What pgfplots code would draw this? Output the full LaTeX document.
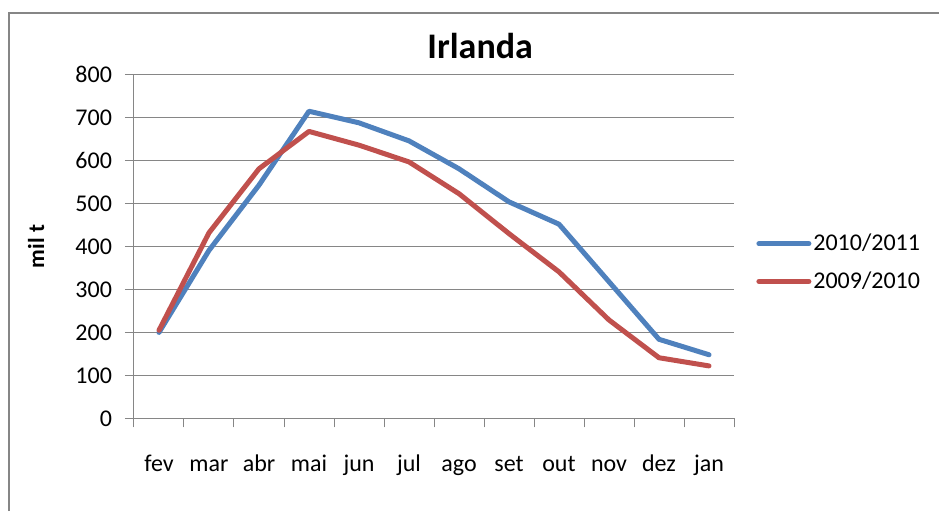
\documentclass[border=0pt]{standalone}
\usepackage{fontspec}
\setmainfont{Carlito}
\usepackage{pgfplots}
\pgfplotsset{compat=1.18}
\definecolor{xblue}{HTML}{4F81BD}
\definecolor{xred}{HTML}{C0504D}
\definecolor{xgrid}{HTML}{868686}

\pgfplotstableread{
x  a   b
0  200 205
1  391 432
2  543 581
3  715 668
4  688 636
5  646 597
6  581 523
7  504 430
8  452 341
9  318 229
10 184 141
11 148 122
}\irl

\begin{document}
\begin{tikzpicture}
\useasboundingbox (0,0) rectangle (469.5pt,-255.5pt);
% chart area frame (cropped at right and bottom)
\draw[xgrid, line width=1.2pt] (4.5pt,-255.5pt) -- (4.5pt,-6.5pt) -- (469.5pt,-6.5pt);
\begin{axis}[
  at={(67pt,-209.15pt)}, anchor=south west,
  scale only axis, width=300pt, height=171.8pt,
  xmin=-0.5, xmax=11.5, ymin=0, ymax=800,
  ytick={0,100,...,800},
  xtick={0,...,11},
  xticklabels={fev,mar,abr,mai,jun,jul,ago,set,out,nov,dez,jan},
  minor xtick={-0.5,0.5,...,11.5},
  major x tick style={draw=none},
  tick align=outside,
  major tick length=4.5pt, minor tick length=4.5pt,
  tick style={xgrid, line width=0.5pt},
  axis x line*=bottom, axis y line*=left,
  axis line style={xgrid, line width=0.5pt, -},
  ymajorgrids, grid style={xgrid, line width=0.5pt},
  tick label style={font=\fontsize{12}{14}\selectfont},
  /pgf/number format/assume math mode=true,
  xticklabel style={anchor=base, yshift=-22pt},
  yticklabel style={xshift=-3pt},
  title={\textbf{Irlanda}},
  title style={at={(axis description cs:0.577,1.05)}, anchor=center, font=\fontsize{18}{21}\selectfont},
  ylabel={\textbf{mil t}},
  ylabel style={at={(axis description cs:-0.163,0.5)}, anchor=center, font=\fontsize{11.5}{13}\selectfont},
  legend style={at={(axis description cs:1,0.4534)}, anchor=west, xshift=8pt,
    draw=none, fill=none, font=\fontsize{12}{14}\selectfont, row sep=7pt,
    nodes={inner sep=1pt}},
  legend cell align=left,
  legend image code/.code={\draw[#1, line width=2.5pt, line cap=round] (0pt,0pt) -- (25pt,0pt);},
]
\addplot[xblue, line width=2.5pt, line join=round, line cap=round] table[x=x, y=a] {\irl};
\addlegendentry{2010/2011}
\addplot[xred, line width=2.5pt, line join=round, line cap=round] table[x=x, y=b] {\irl};
\addlegendentry{2009/2010}
\end{axis}
\end{tikzpicture}
\end{document}
